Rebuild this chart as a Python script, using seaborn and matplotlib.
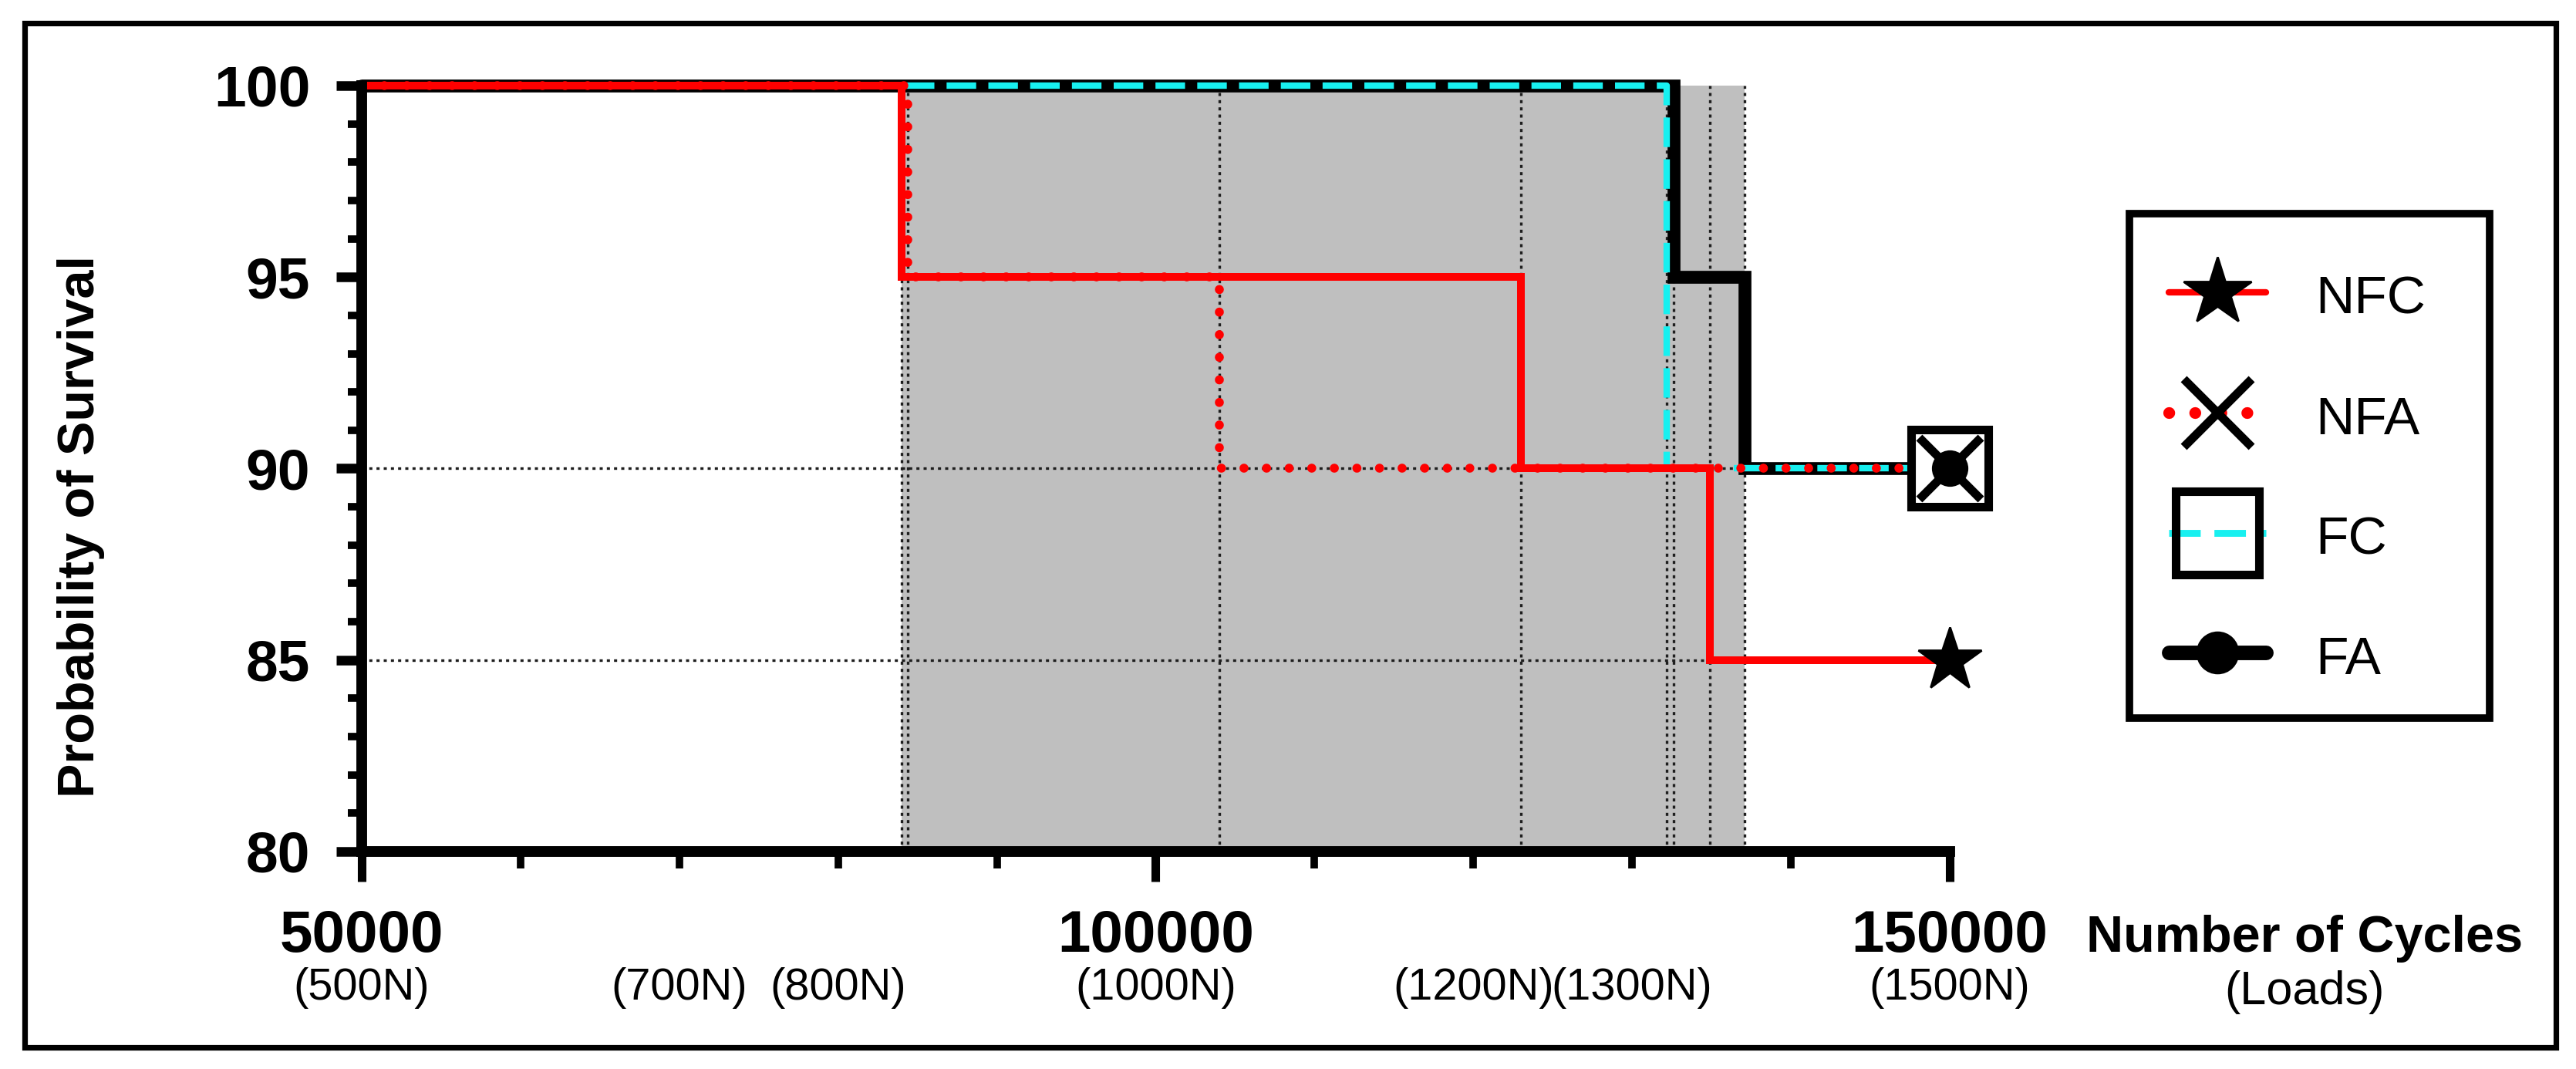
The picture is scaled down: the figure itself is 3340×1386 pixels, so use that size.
import numpy as np
import pandas as pd
import matplotlib
matplotlib.use("Agg")
import matplotlib.pyplot as plt
import seaborn as sns
from matplotlib.lines import Line2D
from matplotlib.patches import Rectangle

# ---------------- data ----------------
nfc_cycles = [50000, 84000, 123000, 134900, 150000]
nfc_surv = [100, 95, 90, 85, 85]
nfa_cycles = [50000, 84400, 104000, 150000]
nfa_surv = [100, 95, 90, 90]
fc_cycles = [50000, 132200, 150000]
fc_surv = [100, 90, 90]
fa_cycles = [50000, 132600, 137100, 150000]
fa_surv = [100, 95, 90, 90]

series_names = ["NFC", "NFA", "FC", "FA"]
major_ticks = [50000, 100000, 150000]
major_labels = ["50000", "100000", "150000"]
load_positions = [50000, 70000, 80000, 100000, 120000, 130000, 150000]
load_labels = ["(500N)", "(700N)", "(800N)", "(1000N)", "(1200N)", "(1300N)", "(1500N)"]
y_ticks = [80, 85, 90, 95, 100]
y_labels = ["80", "85", "90", "95", "100"]

# ---------------- style ----------------
sns.set_theme(style="ticks")
plt.rcParams["font.family"] = ["Liberation Sans", "DejaVu Sans"]
plt.rcParams["text.color"] = "black"
plt.rcParams["xtick.color"] = "black"
plt.rcParams["ytick.color"] = "black"
plt.rcParams["xtick.labelcolor"] = "black"
plt.rcParams["ytick.labelcolor"] = "black"

W, H, DPI = 3341, 1386, 200
fig = plt.figure(figsize=(W / DPI, H / DPI), dpi=DPI)
fig.patch.set_facecolor("white")

AX_L, AX_R, AX_T, AX_B = 469, 2528, 111, 1104
ax = fig.add_axes([AX_L / W, 1 - AX_B / H, (AX_R - AX_L) / W, (AX_B - AX_T) / H])
ax.set_facecolor("white")
ax.set_xlim(50000, 150000)
ax.set_ylim(80, 100)


def drops(xs, ys):
    return [x for x, y0, y1 in zip(xs[1:], ys[:-1], ys[1:]) if y1 < y0]


events = sorted(drops(nfc_cycles, nfc_surv) + drops(nfa_cycles, nfa_surv)
                + drops(fc_cycles, fc_surv) + drops(fa_cycles, fa_surv))
ax.axvspan(min(events), max(events), color="#bfbfbf", lw=0, zorder=0)

grid_kw = dict(color="#1e1e1e", lw=1.2, linestyle=(0, (1.2, 1.6)), zorder=1)
for ev in events:
    ax.plot([ev, ev], [80, 100], **grid_kw)
ax.plot([50000, max(drops(fa_cycles, fa_surv))], [90, 90], **grid_kw)
ax.plot([50000, max(drops(nfc_cycles, nfc_surv))], [85, 85], **grid_kw)

# ---------------- survival curves ----------------
df_fa = pd.DataFrame({"cycles": fa_cycles, "surv": fa_surv})
df_fc = pd.DataFrame({"cycles": fc_cycles, "surv": fc_surv})
df_nfc = pd.DataFrame({"cycles": nfc_cycles, "surv": nfc_surv})
df_nfa = pd.DataFrame({"cycles": nfa_cycles, "surv": nfa_surv})

RED, CYAN = "#ff0000", "#18f0f0"
FA_LW, FC_LW, NFC_LW, NFA_LW = 6.0, 3.0, 3.6, 4.2
FC_LS = (0, (4.6, 1.9))
NFA_LS = (0, (0.01, 2.5))

sns.lineplot(data=df_fa, x="cycles", y="surv", ax=ax, estimator=None,
             drawstyle="steps-post", color="black", lw=FA_LW, zorder=3,
             clip_on=False, solid_joinstyle="miter")
sns.lineplot(data=df_fc, x="cycles", y="surv", ax=ax, estimator=None,
             drawstyle="steps-post", color=CYAN, lw=FC_LW,
             linestyle=FC_LS, zorder=4, clip_on=False)
sns.lineplot(data=df_nfc, x="cycles", y="surv", ax=ax, estimator=None,
             drawstyle="steps-post", color=RED, lw=NFC_LW, zorder=5,
             clip_on=False, solid_joinstyle="miter")
sns.lineplot(data=df_nfa, x="cycles", y="surv", ax=ax, estimator=None,
             drawstyle="steps-post", color=RED, lw=NFA_LW,
             linestyle=NFA_LS, dash_capstyle="round", zorder=6, clip_on=False)

# end-of-test markers
ax.plot(fc_cycles[-1], fc_surv[-1], marker="s", ms=36, mfc="white", mec="black",
        mew=4.0, clip_on=False, zorder=7)
ax.plot(nfa_cycles[-1], nfa_surv[-1], marker="x", ms=29, mec="black", mew=4.0,
        clip_on=False, zorder=8)
ax.plot(fa_cycles[-1], fa_surv[-1], marker="o", ms=16, mfc="black", mec="black",
        clip_on=False, zorder=9)
ax.plot(nfc_cycles[-1], nfc_surv[-1], marker="*", ms=31, mfc="black", mec="black",
        clip_on=False, zorder=9)

# ---------------- axes ----------------
for s in ["top", "right"]:
    ax.spines[s].set_visible(False)
for s in ["left", "bottom"]:
    ax.spines[s].set_linewidth(5.0)
    ax.spines[s].set_color("black")
    ax.spines[s].set_zorder(10)
    ax.spines[s].set_capstyle("projecting")

ax.set_xticks(major_ticks)
ax.set_xticklabels(major_labels, fontsize=27.5, fontweight="bold")
ax.set_xticks(np.arange(50000, 150001, 10000), minor=True)
ax.set_yticks(y_ticks)
ax.set_yticklabels(y_labels, fontsize=27, fontweight="bold")
ax.set_yticks(np.arange(80, 101, 1), minor=True)
ax.tick_params(axis="x", which="major", length=14, width=4, pad=13, direction="out")
ax.tick_params(axis="x", which="minor", length=8, width=3.5, direction="out")
ax.tick_params(axis="y", which="major", length=12, width=4.5, pad=12, direction="out")
ax.tick_params(axis="y", which="minor", length=6.5, width=3.5, direction="out")
ax.set_xlabel("")
ax.set_ylabel("")
ax.grid(False)

AXH = AX_B - AX_T
for pos, lab in zip(load_positions, load_labels):
    ax.text(pos, -(1296 - AX_B) / AXH, lab, transform=ax.get_xaxis_transform(),
            ha="center", va="baseline", fontsize=20.8)

fig.text(2988 / W, 1 - 1234 / H, "Number of Cycles", ha="center", va="baseline",
         fontsize=24, fontweight="bold")
fig.text(2988 / W, 1 - 1302 / H, "(Loads)", ha="center", va="baseline", fontsize=22)
fig.text(105 / W, 1 - 683 / H, "Probability of Survival", rotation=90,
         ha="center", va="center", fontsize=24, fontweight="bold")

# ---------------- legend ----------------
handles = [
    Line2D([], [], color=RED, lw=3.0, marker="*", ms=33, mfc="black", mec="black"),
    Line2D([], [], color=RED, lw=5.5, linestyle=(0, (0.01, 2.2)),
           dash_capstyle="round", marker="x", ms=32, mec="black", mew=4.0),
    Line2D([], [], color=CYAN, lw=3.2, linestyle=(0, (4.6, 2.0)), marker="s",
           ms=39, mfc="none", mec="black", mew=4.0),
    Line2D([], [], color="black", lw=6.8, solid_capstyle="round", marker="o",
           ms=19, mfc="black", mec="black"),
]
fig.add_artist(Rectangle((2761 / W, 1 - 931 / H), (3228 - 2761) / W, (931 - 277) / H,
                         transform=fig.transFigure, fill=False, ec="black", lw=3.5))
fig.legend(handles, series_names, loc="upper left",
           bbox_to_anchor=(2812 / W, 1 - 352 / H), bbox_transform=fig.transFigure,
           frameon=False, fontsize=25, borderpad=0, borderaxespad=0,
           handlelength=1.82, handleheight=1.0, handletextpad=0.92,
           labelspacing=1.25)

# outer frame
fig.add_artist(Rectangle((32 / W, 1 - 1358 / H), (3314 - 32) / W, (1358 - 30) / H,
                         transform=fig.transFigure, fill=False, ec="black", lw=2.6))

fig.savefig("out.png", dpi=DPI, facecolor="white")
